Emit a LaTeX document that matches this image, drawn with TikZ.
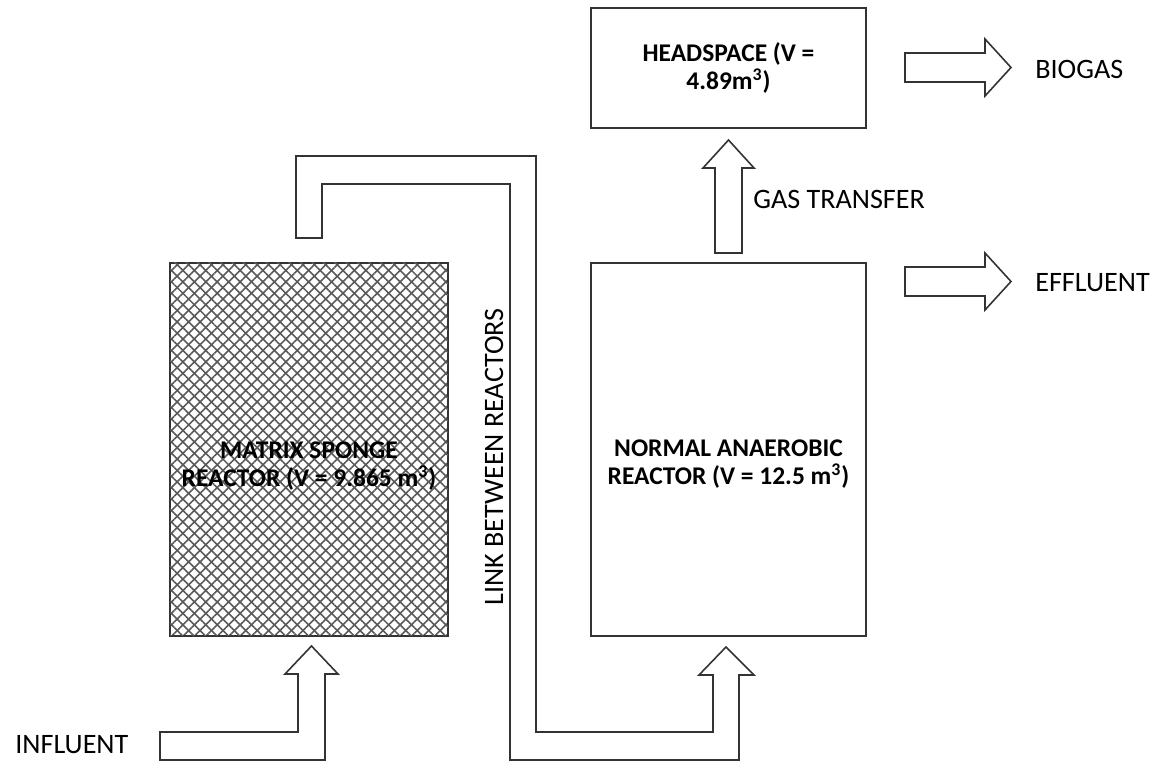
\documentclass[tikz,border=0pt]{standalone}
\usepackage{fontspec}
\setmainfont{Carlito}
\usetikzlibrary{patterns.meta}
\tikzset{
  reactor/.style={draw=black!80, line width=1pt, inner sep=0pt},
  sponge/.style={reactor, pattern={Lines[angle=45,distance=4.6pt,line width=0.9pt]}, pattern color=black!65,
    postaction={pattern={Lines[angle=-45,distance=4.6pt,line width=0.9pt]}, pattern color=black!65}},
  boldlabel/.style={align=center, font=\fontsize{14.5}{16}\selectfont\bfseries},
  plainlabel/.style={inner sep=0pt, font=\fontsize{16}{19}\selectfont},
  blockarrow/.style={draw=black!80, line width=0.9pt, fill=white}
}
\begin{document}
\begin{tikzpicture}
  \useasboundingbox (0,0) rectangle (23.06,15.24);
  % reactors and headspace
  \node[sponge, minimum width=5.56cm, minimum height=7.46cm] (msr) at (6.18,6.25) {};
  \node[boldlabel] (msrtext) at (6.18,5.92) {MATRIX SPONGE\\REACTOR (V = 9.865 m\textsuperscript{3})};
  \node[reactor, minimum width=5.50cm, minimum height=7.46cm] (nar) at (14.57,6.25) {};
  \node[boldlabel] (nartext) at (14.57,5.95) {NORMAL ANAEROBIC\\REACTOR (V = 12.5 m\textsuperscript{3})};
  \node[reactor, boldlabel, minimum width=5.50cm, minimum height=2.40cm] (head) at (14.57,13.88) {HEADSPACE (V =\\4.89m\textsuperscript{3})};

  % influent
  \draw[blockarrow] (3.20,0.60) -- (5.96,0.60) -- (5.96,1.76) -- (5.70,1.76) -- (6.23,2.32)
    -- (6.76,1.76) -- (6.50,1.76) -- (6.50,0.04) -- (3.20,0.04) -- cycle;
  \node[plainlabel, anchor=west] (influent) at (0.30,0.34) {INFLUENT};

  % link between reactors
  \draw[blockarrow] (5.92,10.48) -- (5.92,12.12) -- (10.72,12.12) -- (10.72,0.60) -- (14.26,0.60)
    -- (14.26,1.74) -- (13.98,1.74) -- (14.52,2.30) -- (15.08,1.74) -- (14.78,1.74) -- (14.78,0.04)
    -- (10.20,0.04) -- (10.20,11.56) -- (6.44,11.56) -- (6.44,10.48) -- cycle;
  \node[plainlabel, rotate=90] (link) at (9.88,6.10) {LINK BETWEEN REACTORS};

  % gas transfer
  \draw[blockarrow] (14.30,10.18) -- (14.30,11.88) -- (14.06,11.88) -- (14.57,12.44) -- (15.08,11.88)
    -- (14.84,11.88) -- (14.84,10.18) -- cycle;
  \node[plainlabel, anchor=west] (gas) at (15.06,11.26) {GAS TRANSFER};

  % outputs
  \draw[blockarrow] (18.10,14.18) -- (19.70,14.18) -- (19.70,14.46) -- (20.22,13.89) -- (19.70,13.32)
    -- (19.70,13.60) -- (18.10,13.60) -- cycle;
  \node[plainlabel, anchor=west] (biogas) at (20.70,13.86) {BIOGAS};
  \draw[blockarrow] (18.10,9.90) -- (19.70,9.90) -- (19.70,10.18) -- (20.22,9.61) -- (19.70,9.04)
    -- (19.70,9.32) -- (18.10,9.32) -- cycle;
  \node[plainlabel, anchor=west] (effluent) at (20.70,9.58) {EFFLUENT};
\end{tikzpicture}
\end{document}
